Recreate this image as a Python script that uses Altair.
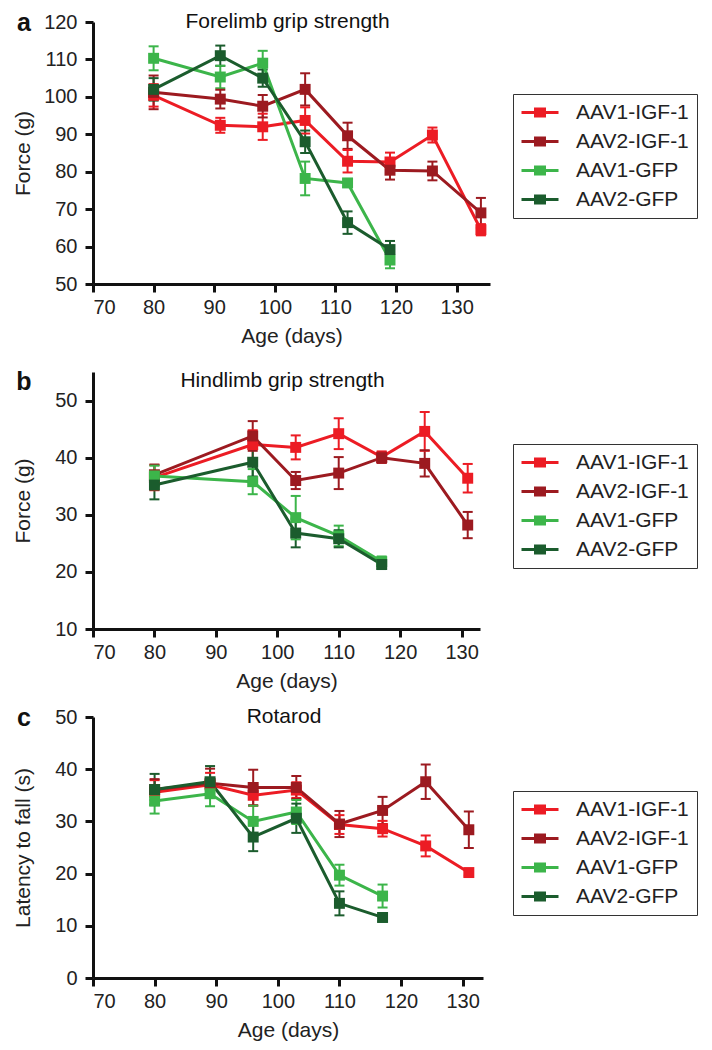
import altair as alt
import pandas as pd

FONT = "Liberation Sans"
GROUPS = ["AAV1-IGF-1", "AAV2-IGF-1", "AAV1-GFP", "AAV2-GFP"]
COLORS = ["#ec1c24", "#9c1a20", "#3cb54a", "#1b5c2d"]
AGE_TICKS = [70, 80, 90, 100, 110, 120, 130]

# ---- Panel a: Forelimb grip strength ----
a_days_igf = [80, 91, 98, 105, 112, 119, 126, 134]
a_days_gfp = [80, 91, 98, 105, 112, 119]
a_aav1_igf = [100.4, 92.4, 92.0, 93.7, 82.8, 82.6, 89.8, 64.5]
a_aav1_igf_sem = [3.0, 2.0, 3.5, 3.5, 3.0, 2.5, 2.0, 1.5]
a_aav2_igf = [101.2, 99.4, 97.5, 102.0, 89.6, 80.4, 80.2, 69.0]
a_aav2_igf_sem = [4.5, 2.5, 3.0, 4.3, 3.5, 2.5, 2.5, 4.0]
a_aav1_gfp = [110.3, 105.3, 109.0, 78.2, 77.0, 56.4]
a_aav1_gfp_sem = [3.2, 3.0, 3.3, 4.5, 1.0, 2.2]
a_aav2_gfp = [102.0, 111.0, 105.0, 88.0, 66.4, 59.2]
a_aav2_gfp_sem = [3.0, 2.7, 2.3, 3.0, 3.0, 2.3]

# ---- Panel b: Hindlimb grip strength ----
b_days_igf = [80, 96, 103, 110, 117, 124, 131]
b_days_gfp = [80, 96, 103, 110, 117]
b_aav1_igf = [36.5, 42.3, 41.8, 44.2, 40.1, 44.6, 36.4]
b_aav1_igf_sem = [2.2, 2.5, 2.1, 2.7, 1.0, 3.4, 2.5]
b_aav2_igf = [37.0, 43.8, 36.0, 37.3, 40.0, 39.0, 28.2]
b_aav2_igf_sem = [1.8, 2.6, 1.5, 2.8, 0.9, 2.3, 2.3]
b_aav1_gfp = [36.8, 35.8, 29.5, 26.3, 21.8]
b_aav1_gfp_sem = [1.8, 2.2, 3.8, 1.8, 0.9]
b_aav2_gfp = [35.2, 39.2, 26.8, 25.8, 21.3]
b_aav2_gfp_sem = [2.5, 2.5, 2.5, 1.5, 0.8]

# ---- Panel c: Rotarod ----
c_days_igf = [80, 89, 96, 103, 110, 117, 124, 131]
c_days_gfp = [80, 89, 96, 103, 110, 117]
c_aav1_igf = [35.6, 37.0, 35.0, 36.0, 29.4, 28.6, 25.3, 20.2]
c_aav1_igf_sem = [2.3, 2.3, 2.0, 1.5, 1.8, 1.5, 2.0, 0.6]
c_aav2_igf = [36.1, 37.3, 36.5, 36.5, 29.5, 32.1, 37.6, 28.4]
c_aav2_igf_sem = [2.0, 2.8, 3.4, 2.2, 2.5, 2.6, 3.3, 3.5]
c_aav1_gfp = [33.9, 35.3, 30.0, 31.8, 19.7, 15.7]
c_aav1_gfp_sem = [2.4, 2.4, 3.0, 2.3, 2.0, 2.2]
c_aav2_gfp = [36.1, 37.6, 27.0, 30.6, 14.3, 11.6]
c_aav2_gfp_sem = [3.0, 3.0, 2.7, 2.8, 2.3, 0.8]


def make_df(days_igf, days_gfp, series, sems):
    rows = []
    for g, vals, errs in zip(GROUPS, series, sems):
        days = days_igf if "IGF" in g else days_gfp
        for d, v, e in zip(days, vals, errs):
            rows.append({"group": g, "grp": g, "day": d, "value": v,
                         "lo": v - e, "hi": v + e})
    return pd.DataFrame(rows)


# legend glyph: a line with a square in its middle (unit = half the symbol size)
SYM = "M-1,-0.15H2.7V0.15H-1Z M0.25,-0.5H1.45V0.5H0.25Z"
CAP = "M-1,0H1"


def panel(df, title, letter, ytitle, ydomain, yticks, xmax, width, height,
          lx, ly, ty):
    xenc = alt.X("day:Q", scale=alt.Scale(domain=[70, xmax], nice=False, zero=False),
                 axis=alt.Axis(values=AGE_TICKS, title="Age (days)"))
    yscale = alt.Scale(domain=ydomain, nice=False, zero=False)
    yaxis = alt.Axis(values=yticks, title=ytitle, titleX=-70, titleBaseline="middle")
    # stroke scale: same colours, listed in reverse so it stays a separate scale
    stroke = alt.Stroke("grp:N", scale=alt.Scale(domain=GROUPS[::-1], range=COLORS[::-1]),
                        legend=None)
    base = alt.Chart(df)
    rules = base.mark_rule(strokeWidth=2).encode(
        x=xenc, y=alt.Y("lo:Q", scale=yscale, axis=yaxis), y2="hi:Q", stroke=stroke)
    cap_lo = base.mark_point(shape=CAP, filled=False, size=100, strokeWidth=2, opacity=1).encode(
        x=xenc, y=alt.Y("lo:Q", scale=yscale, axis=yaxis), stroke=stroke)
    cap_hi = base.mark_point(shape=CAP, filled=False, size=100, strokeWidth=2, opacity=1).encode(
        x=xenc, y=alt.Y("hi:Q", scale=yscale, axis=yaxis), stroke=stroke)
    lines = base.mark_line(strokeWidth=3).encode(
        x=xenc, y=alt.Y("value:Q", scale=yscale, axis=yaxis), stroke=stroke)
    legend = alt.Legend(
        title=None, orient="none", legendX=lx, legendY=ly,
        strokeColor="#333", padding=8, fillColor="white",
        labelFont=FONT, labelFontSize=21, labelColor="#222", labelOffset=34,
        symbolType=SYM, symbolSize=400, symbolStrokeWidth=0, symbolOpacity=1,
        rowPadding=7)
    points = base.mark_point(shape="square", filled=True, size=120, opacity=1).encode(
        x=xenc, y=alt.Y("value:Q", scale=yscale, axis=yaxis),
        fill=alt.Fill("group:N", scale=alt.Scale(domain=GROUPS, range=COLORS), legend=legend))
    lab = alt.Chart(pd.DataFrame({"t": [letter]})).mark_text(
        font=FONT, fontSize=25, fontWeight="bold", align="center", baseline="middle",
        color="#111").encode(text="t:N", x=alt.value(-69), y=alt.value(ty + 1))
    ttl = alt.Chart(pd.DataFrame({"t": [title]})).mark_text(
        font=FONT, fontSize=21, align="center", baseline="middle",
        color="#111").encode(text="t:N", x=alt.value(width / 2 - 4), y=alt.value(ty))
    return alt.layer(rules, cap_lo, cap_hi, lines, points, lab, ttl).properties(
        width=width, height=height)


dfa = make_df(a_days_igf, a_days_gfp,
              [a_aav1_igf, a_aav2_igf, a_aav1_gfp, a_aav2_gfp],
              [a_aav1_igf_sem, a_aav2_igf_sem, a_aav1_gfp_sem, a_aav2_gfp_sem])
dfb = make_df(b_days_igf, b_days_gfp,
              [b_aav1_igf, b_aav2_igf, b_aav1_gfp, b_aav2_gfp],
              [b_aav1_igf_sem, b_aav2_igf_sem, b_aav1_gfp_sem, b_aav2_gfp_sem])
dfc = make_df(c_days_igf, c_days_gfp,
              [c_aav1_igf, c_aav2_igf, c_aav1_gfp, c_aav2_gfp],
              [c_aav1_igf_sem, c_aav2_igf_sem, c_aav1_gfp_sem, c_aav2_gfp_sem])

pa = panel(dfa, "Forelimb grip strength", "a", "Force (g)", [50, 120],
           list(range(50, 121, 10)), 135.5, 397, 262, 420, 72, 0)
pb = panel(dfb, "Hindlimb grip strength", "b", "Force (g)", [10, 55],
           list(range(10, 51, 10)), 133, 387, 257, 420, 72, 9)
pc = panel(dfc, "Rotarod", "c", "Latency to fall (s)", [0, 50],
           list(range(0, 51, 10)), 133.3, 390, 261, 420, 74, 0)

chart = alt.vconcat(pa, pb, pc, spacing=88, bounds="flush").resolve_scale(
    fill="independent", stroke="independent", x="independent", y="independent"
).resolve_legend(fill="independent").properties(
    padding={"left": 3, "top": 3, "right": 0, "bottom": 4}
).configure_view(stroke=None).configure_axis(
    grid=False, domainColor="#111", domainWidth=3, tickColor="#111", tickWidth=3,
    tickSize=8, labelFont=FONT, labelFontSize=20, labelColor="#222",
    titleFont=FONT, titleFontSize=21, titleFontWeight="normal", titleColor="#222",
    labelOverlap=False
).configure_axisX(labelPadding=5, titlePadding=8).configure_axisY(labelPadding=8)

chart.save("out.html", embed_options={"renderer": "svg", "actions": False})
